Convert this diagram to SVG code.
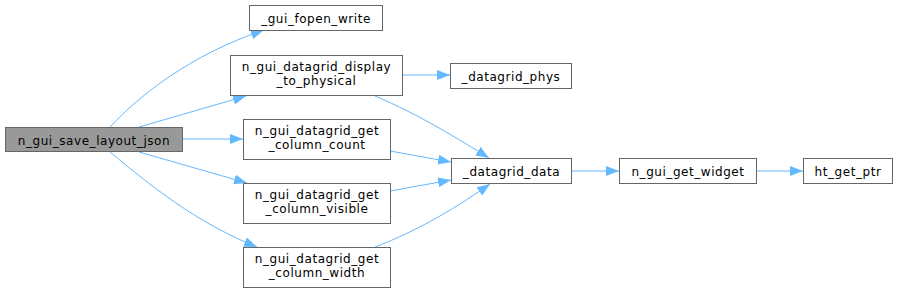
<svg xmlns="http://www.w3.org/2000/svg" width="897" height="293" viewBox="0 0 897 293">
<style>
.n rect{fill:#ffffff;stroke:#666666;stroke-width:1}
.n.root rect{fill:#999999}
.n text{font-family:"DejaVu Sans",sans-serif;font-size:12px;letter-spacing:0.55px;fill:#000000;text-anchor:middle}
.e path{fill:none;stroke:#63b8ff;stroke-width:1;marker-end:url(#ah)}
</style>
<defs>
<marker id="ah" markerUnits="userSpaceOnUse" markerWidth="14" markerHeight="11" refX="13" refY="5" orient="auto">
<path d="M0,0 L13,5 L0,10 z" fill="#63b8ff" stroke="none"/>
</marker>
</defs>
<rect width="897" height="293" fill="#ffffff"/>
<g id="edges" class="e">
<path d="M110,127 C140,95 190,55 264,30"/>
<path d="M139,127 L246,96"/>
<path d="M183,139 L243,139"/>
<path d="M139,152 L247,183"/>
<path d="M110,152 C150,185 195,222 257,247"/>
<path d="M402,75 L450,75"/>
<path d="M375,96 C420,115 460,140 489,158"/>
<path d="M390,151 L451,162"/>
<path d="M390,191 L451,180"/>
<path d="M375,247 C420,230 460,205 490,184"/>
<path d="M571,171 L619,171"/>
<path d="M756,171 L803,171"/>
</g>
<g id="n_gui_save_layout_json" class="n root"><rect x="5.5" y="127.5" width="177" height="24"/><text x="94" y="144.5">n_gui_save_layout_json</text></g>
<g id="gui_fopen_write" class="n"><rect x="249.5" y="5.5" width="133" height="25"/><text x="316" y="22.5">_gui_fopen_write</text></g>
<g id="display_to_physical" class="n"><rect x="230.5" y="55.5" width="172" height="40"/><text x="316.5" y="71">n_gui_datagrid_display</text><text x="316.5" y="85">_to_physical</text></g>
<g id="get_column_count" class="n"><rect x="243.5" y="119.5" width="147" height="40"/><text x="317" y="135">n_gui_datagrid_get</text><text x="317" y="149">_column_count</text></g>
<g id="get_column_visible" class="n"><rect x="243.5" y="183.5" width="147" height="40"/><text x="317" y="199">n_gui_datagrid_get</text><text x="317" y="213">_column_visible</text></g>
<g id="get_column_width" class="n"><rect x="243.5" y="247.5" width="147" height="40"/><text x="317" y="263">n_gui_datagrid_get</text><text x="317" y="277">_column_width</text></g>
<g id="datagrid_phys" class="n"><rect x="450.5" y="63.5" width="121" height="25"/><text x="511" y="80.5">_datagrid_phys</text></g>
<g id="datagrid_data" class="n"><rect x="451.5" y="158.5" width="120" height="25"/><text x="511.5" y="175.5">_datagrid_data</text></g>
<g id="n_gui_get_widget" class="n"><rect x="619.5" y="158.5" width="137" height="25"/><text x="688" y="175.5">n_gui_get_widget</text></g>
<g id="ht_get_ptr" class="n"><rect x="803.5" y="158.5" width="89" height="25"/><text x="848" y="175.5">ht_get_ptr</text></g>
</svg>
